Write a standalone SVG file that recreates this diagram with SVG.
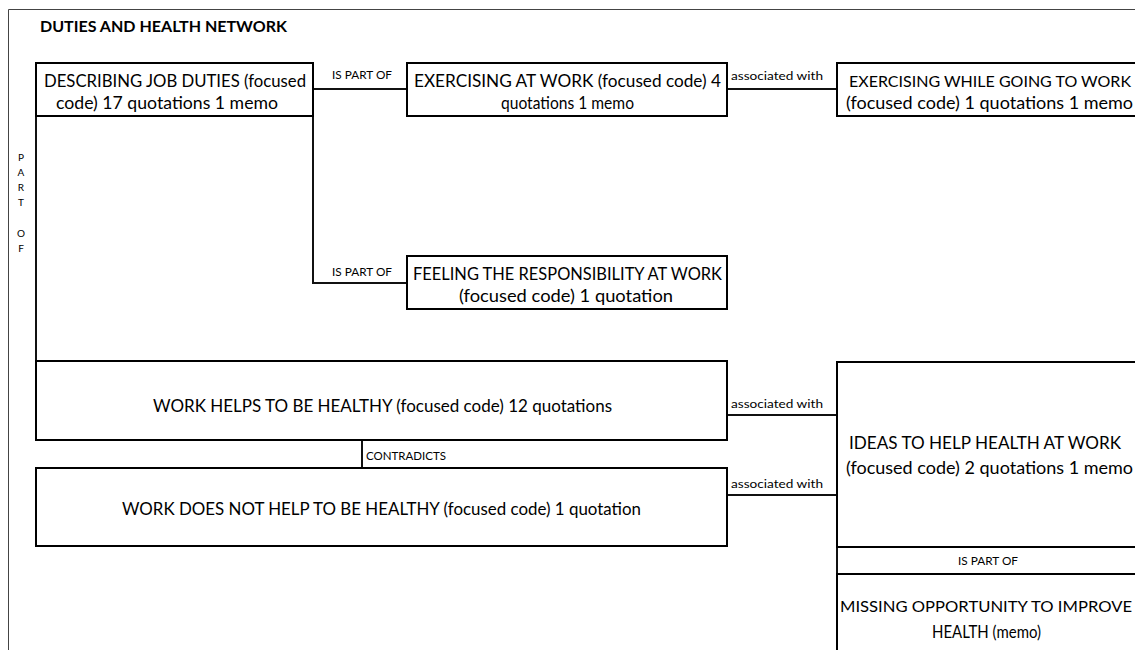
<svg xmlns="http://www.w3.org/2000/svg" width="1135" height="650" viewBox="0 0 1135 650">
  <style>
    .frame { fill: none; stroke: #444; stroke-width: 1; }
    .box { fill: #fff; stroke: #000; stroke-width: 2; }
    .open { fill: none; stroke: #000; stroke-width: 2; }
    .conn { fill: none; stroke: #111; stroke-width: 2; }
    .t { font-family: Lato, "Liberation Sans", sans-serif; font-size: 17px; fill: #000; }
    .t.edge { font-size: 15.5px; }
    .lbl { font-family: Lato, "Liberation Sans", sans-serif; font-size: 10.5px; fill: #000; }
    .assoc { font-family: Lato, "Liberation Sans", sans-serif; font-size: 11.5px; fill: #000; }
    .title { font-family: Lato, "Liberation Sans", sans-serif; font-size: 14.5px; font-weight: bold; fill: #000; }
    .vert { font-family: Lato, "Liberation Sans", sans-serif; font-size: 10px; fill: #000; text-anchor: middle; }
  </style>

  <rect width="1135" height="650" fill="#fff"/>
  <path class="frame" d="M8.5,650 V9.5 H1135"/>

  <text class="title" x="40" y="32" textLength="247" lengthAdjust="spacingAndGlyphs">DUTIES AND HEALTH NETWORK</text>

  <!-- connectors -->
  <g id="connectors">
    <line class="conn" x1="313" y1="89" x2="407" y2="89"/>
    <text class="lbl" x="332" y="79" textLength="60" lengthAdjust="spacingAndGlyphs">IS PART OF</text>

    <path class="conn" d="M313,116 V283 H407"/>
    <text class="lbl" x="332" y="276" textLength="60" lengthAdjust="spacingAndGlyphs">IS PART OF</text>

    <line class="conn" x1="727" y1="89" x2="837" y2="89"/>
    <text class="assoc" x="731" y="80" textLength="92" lengthAdjust="spacingAndGlyphs">associated with</text>

    <line class="conn" x1="36" y1="116" x2="36" y2="361"/>
    <text class="vert" x="21" y="161">P</text>
    <text class="vert" x="21" y="176">A</text>
    <text class="vert" x="21" y="191">R</text>
    <text class="vert" x="21" y="206">T</text>
    <text class="vert" x="21" y="237">O</text>
    <text class="vert" x="21" y="252">F</text>

    <line class="conn" x1="362" y1="440" x2="362" y2="468"/>
    <text class="lbl" x="366" y="460" textLength="80" lengthAdjust="spacingAndGlyphs">CONTRADICTS</text>

    <line class="conn" x1="727" y1="415" x2="837" y2="415"/>
    <text class="assoc" x="731" y="408" textLength="92" lengthAdjust="spacingAndGlyphs">associated with</text>

    <line class="conn" x1="727" y1="495" x2="837" y2="495"/>
    <text class="assoc" x="731" y="488" textLength="92" lengthAdjust="spacingAndGlyphs">associated with</text>

    <line class="conn" x1="837" y1="547" x2="837" y2="574"/>
    <text class="lbl" x="958" y="565" textLength="60" lengthAdjust="spacingAndGlyphs">IS PART OF</text>
  </g>

  <!-- nodes -->
  <g id="describing-job-duties">
    <rect class="box" x="36" y="63" width="277" height="53"/>
    <text class="t" x="44" y="87" textLength="262" lengthAdjust="spacingAndGlyphs">DESCRIBING JOB DUTIES (focused</text>
    <text class="t" x="56" y="109" textLength="222" lengthAdjust="spacingAndGlyphs">code) 17 quotations 1 memo</text>
  </g>

  <g id="exercising-at-work">
    <rect class="box" x="407" y="63" width="320" height="53"/>
    <text class="t" x="414" y="87" textLength="307" lengthAdjust="spacingAndGlyphs">EXERCISING AT WORK (focused code) 4</text>
    <text class="t" x="501" y="109" textLength="133" lengthAdjust="spacingAndGlyphs">quotations 1 memo</text>
  </g>

  <g id="exercising-while-going">
    <path class="open" d="M1135,63 H837 V116 H1135"/>
    <text class="t edge" x="849" y="87" textLength="282" lengthAdjust="spacingAndGlyphs">EXERCISING WHILE GOING TO WORK</text>
    <text class="t" x="846" y="109" textLength="287" lengthAdjust="spacingAndGlyphs">(focused code) 1 quotations 1 memo</text>
  </g>

  <g id="feeling-responsibility">
    <rect class="box" x="407" y="256" width="320" height="53"/>
    <text class="t" x="413" y="280" textLength="309" lengthAdjust="spacingAndGlyphs">FEELING THE RESPONSIBILITY AT WORK</text>
    <text class="t" x="459" y="302" textLength="214" lengthAdjust="spacingAndGlyphs">(focused code) 1 quotation</text>
  </g>

  <g id="work-helps">
    <rect class="box" x="36" y="361" width="691" height="79"/>
    <text class="t" x="153" y="412" textLength="459" lengthAdjust="spacingAndGlyphs">WORK HELPS TO BE HEALTHY (focused code) 12 quotations</text>
  </g>

  <g id="work-does-not-help">
    <rect class="box" x="36" y="468" width="691" height="78"/>
    <text class="t" x="122" y="515" textLength="519" lengthAdjust="spacingAndGlyphs">WORK DOES NOT HELP TO BE HEALTHY (focused code) 1 quotation</text>
  </g>

  <g id="ideas-to-help-health">
    <path class="open" d="M1135,362 H837 V547 H1135"/>
    <text class="t" x="849" y="449" textLength="272" lengthAdjust="spacingAndGlyphs">IDEAS TO HELP HEALTH AT WORK</text>
    <text class="t" x="846" y="474" textLength="287" lengthAdjust="spacingAndGlyphs">(focused code) 2 quotations 1 memo</text>
  </g>

  <g id="missing-opportunity">
    <path class="open" d="M1135,574 H837 V650"/>
    <text class="t edge" x="840" y="612" textLength="292" lengthAdjust="spacingAndGlyphs">MISSING OPPORTUNITY TO IMPROVE</text>
    <text class="t" x="932" y="638" textLength="109" lengthAdjust="spacingAndGlyphs">HEALTH (memo)</text>
  </g>
</svg>
